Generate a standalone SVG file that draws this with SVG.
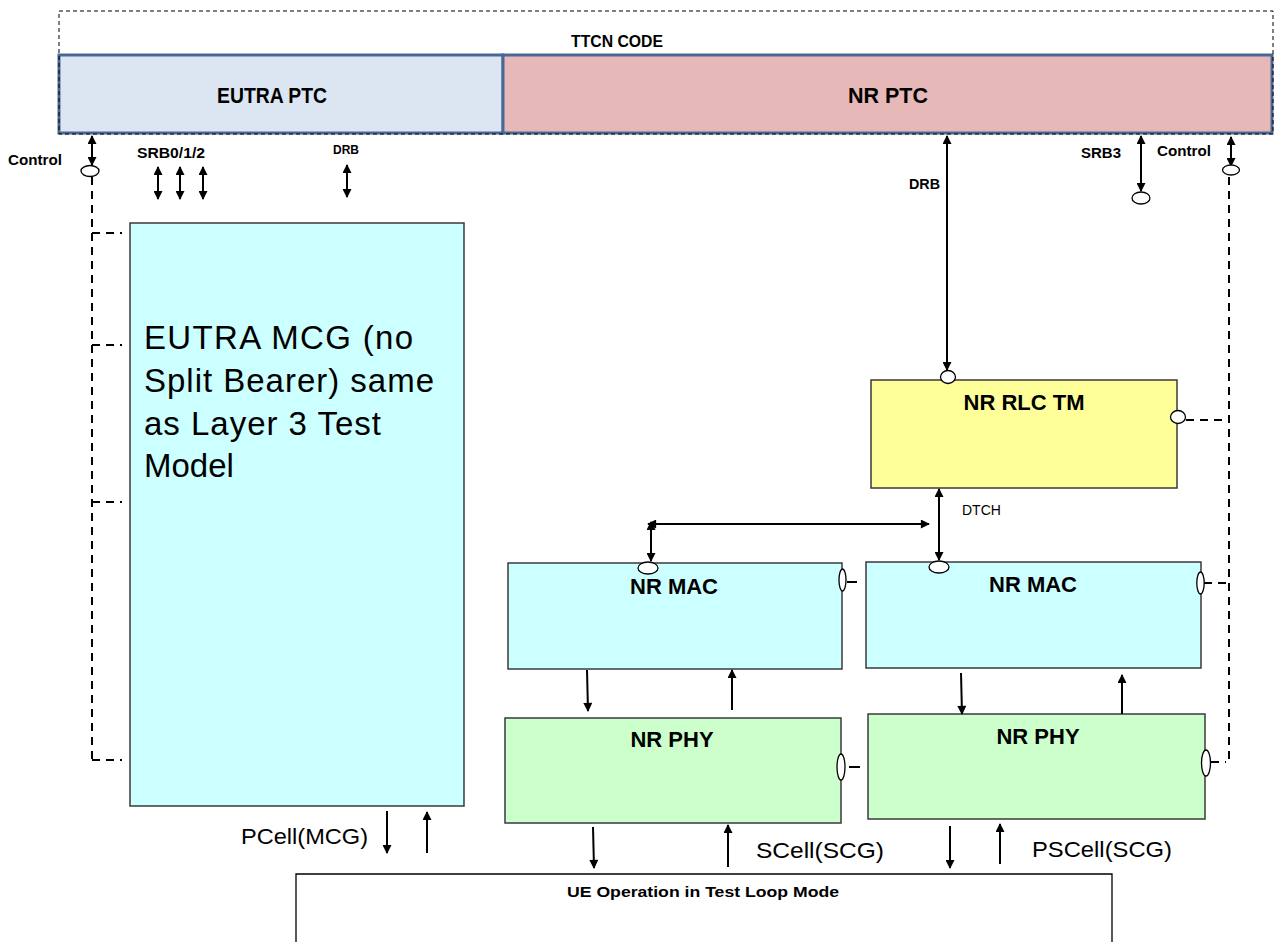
<svg xmlns="http://www.w3.org/2000/svg" width="1275" height="942" viewBox="0 0 1275 942">
<defs>
<marker id="ah" viewBox="0 0 10 10" refX="9" refY="5" markerWidth="11" markerHeight="9" markerUnits="userSpaceOnUse" orient="auto-start-reverse"><path d="M0,0 L10,5 L0,10 z" fill="#000"/></marker>
</defs>
<style>
.lbl{font-family:"Liberation Sans",Arial,sans-serif;fill:#000}
.b{font-weight:bold}
.box{stroke:#3a3a3a;stroke-width:1.5}
.ptc{stroke:#4a6896;stroke-width:3}
.ell{fill:#fff;stroke:#000;stroke-width:1.3}
.arr{stroke:#000;stroke-width:2;fill:none}
.da{marker-start:url(#ah);marker-end:url(#ah)}
.ea{marker-end:url(#ah)}
.dash{stroke:#000;stroke-width:2;stroke-dasharray:8 6;fill:none}
</style>
<rect width="1275" height="942" fill="#fff"/>

<g id="ttcn">
<rect x="59" y="55" width="444" height="78" fill="#dce6f2" class="ptc"/>
<rect x="503" y="55" width="769" height="78" fill="#e6b8b7" class="ptc"/>
<rect x="59" y="11" width="1214" height="123" fill="none" stroke="#000" stroke-width="1" stroke-dasharray="4 3"/>
<text x="617" y="47" class="lbl b" font-size="16" text-anchor="middle" textLength="92" lengthAdjust="spacingAndGlyphs">TTCN CODE</text>
</g>
<g id="eutra-ptc"><text x="272" y="103" class="lbl b" font-size="22" text-anchor="middle" textLength="110" lengthAdjust="spacingAndGlyphs">EUTRA PTC</text></g>
<g id="nr-ptc"><text x="888" y="103" class="lbl b" font-size="22" text-anchor="middle" textLength="80" lengthAdjust="spacingAndGlyphs">NR PTC</text></g>

<g id="eutra-mcg">
<rect x="130" y="223" width="334" height="583" fill="#ccffff" class="box"/>
<text class="lbl" font-size="33">
<tspan x="144" y="349" textLength="269" lengthAdjust="spacing">EUTRA MCG (no</tspan>
<tspan x="144" y="392" textLength="290" lengthAdjust="spacing">Split Bearer) same</tspan>
<tspan x="144" y="435" textLength="237" lengthAdjust="spacing">as Layer 3 Test</tspan>
<tspan x="144" y="477">Model</tspan>
</text>
</g>

<g id="nr-rlc-tm">
<rect x="871" y="380" width="306" height="108" fill="#ffff99" class="box"/>
<text x="1024" y="410" class="lbl b" font-size="22" text-anchor="middle">NR RLC TM</text>
</g>
<g id="nr-mac-1">
<rect x="508" y="563" width="334" height="106" fill="#ccffff" class="box"/>
<text x="674" y="594" class="lbl b" font-size="22" text-anchor="middle">NR MAC</text>
</g>
<g id="nr-mac-2">
<rect x="866" y="562" width="335" height="106" fill="#ccffff" class="box"/>
<text x="1033" y="592" class="lbl b" font-size="22" text-anchor="middle">NR MAC</text>
</g>
<g id="nr-phy-1">
<rect x="505" y="718" width="336" height="105" fill="#ccffcc" class="box"/>
<text x="672" y="747" class="lbl b" font-size="22" text-anchor="middle">NR PHY</text>
</g>
<g id="nr-phy-2">
<rect x="868" y="714" width="337" height="105" fill="#ccffcc" class="box"/>
<text x="1038" y="744" class="lbl b" font-size="22" text-anchor="middle">NR PHY</text>
</g>
<g id="ue">
<path d="M296,942 V874 H1112 V942" fill="#fff" stroke="#000" stroke-width="1.3"/>
<text x="703" y="897" class="lbl b" font-size="15" text-anchor="middle" textLength="272" lengthAdjust="spacingAndGlyphs">UE Operation in Test Loop Mode</text>
</g>

<g id="connectors">
<line x1="92" y1="136" x2="92" y2="165" class="arr da"/>
<path d="M92,177 V760 M92,233 H122 M92,345 H122 M92,502 H122 M92,760 H122" class="dash"/>
<line x1="158" y1="167" x2="158" y2="199" class="arr da"/>
<line x1="180" y1="167" x2="180" y2="199" class="arr da"/>
<line x1="203" y1="167" x2="203" y2="199" class="arr da"/>
<line x1="347" y1="165" x2="347" y2="197" class="arr da"/>
<line x1="947" y1="136" x2="947" y2="370" class="arr da"/>
<line x1="1141" y1="136" x2="1141" y2="191" class="arr da"/>
<line x1="1231" y1="137" x2="1231" y2="166" class="arr da"/>
<path d="M1229,177 V760 M1186,420 H1229 M1204,583 H1229 M1211,762 H1226" class="dash"/>
<path d="M847,582 H857 M849,767 H860" class="arr"/>
<line x1="939" y1="489" x2="939" y2="560" class="arr da"/>
<line x1="648" y1="524" x2="929" y2="524" class="arr da"/>
<line x1="651" y1="522" x2="651" y2="561" class="arr da"/>
<line x1="587" y1="670" x2="588" y2="711" class="arr ea"/>
<line x1="732" y1="710" x2="732" y2="670" class="arr ea"/>
<line x1="961" y1="673" x2="962" y2="714" class="arr ea"/>
<line x1="1122" y1="714" x2="1122" y2="675" class="arr ea"/>
<line x1="593" y1="827" x2="594" y2="868" class="arr ea"/>
<line x1="728" y1="867" x2="728" y2="825" class="arr ea"/>
<line x1="950" y1="826" x2="950" y2="868" class="arr ea"/>
<line x1="1000" y1="864" x2="1000" y2="824" class="arr ea"/>
<line x1="387" y1="811" x2="387" y2="853" class="arr ea"/>
<line x1="427" y1="853" x2="427" y2="812" class="arr ea"/>
</g>

<g id="ports">
<ellipse cx="90" cy="171" rx="9" ry="5.5" class="ell"/>
<ellipse cx="1141" cy="198" rx="9" ry="6" class="ell"/>
<ellipse cx="1231" cy="170" rx="8.5" ry="5" class="ell"/>
<ellipse cx="948" cy="377" rx="7.5" ry="6.5" class="ell"/>
<ellipse cx="1178" cy="417" rx="7.5" ry="6.5" class="ell"/>
<ellipse cx="648" cy="568" rx="10" ry="6" class="ell"/>
<ellipse cx="939" cy="567" rx="10" ry="6" class="ell"/>
<ellipse cx="842.5" cy="580" rx="3.5" ry="11" class="ell"/>
<ellipse cx="1200.5" cy="583" rx="3.7" ry="11" class="ell"/>
<ellipse cx="841" cy="767" rx="4" ry="13" class="ell"/>
<ellipse cx="1206" cy="763" rx="4.5" ry="13" class="ell"/>
</g>

<g id="labels">
<text x="8" y="165" class="lbl b" font-size="14" textLength="54" lengthAdjust="spacingAndGlyphs">Control</text>
<text x="137" y="158" class="lbl b" font-size="14" textLength="68" lengthAdjust="spacingAndGlyphs">SRB0/1/2</text>
<text x="333" y="154" class="lbl b" font-size="12">DRB</text>
<text x="909" y="189" class="lbl b" font-size="14" textLength="31" lengthAdjust="spacingAndGlyphs">DRB</text>
<text x="1081" y="158" class="lbl b" font-size="14" textLength="40" lengthAdjust="spacingAndGlyphs">SRB3</text>
<text x="1157" y="156" class="lbl b" font-size="14" textLength="54" lengthAdjust="spacingAndGlyphs">Control</text>
<text x="962" y="515" class="lbl" font-size="14">DTCH</text>
<text x="241" y="844" class="lbl" font-size="22" textLength="127" lengthAdjust="spacingAndGlyphs">PCell(MCG)</text>
<text x="756" y="858" class="lbl" font-size="22" textLength="128" lengthAdjust="spacingAndGlyphs">SCell(SCG)</text>
<text x="1032" y="857" class="lbl" font-size="22" textLength="140" lengthAdjust="spacingAndGlyphs">PSCell(SCG)</text>
</g>
</svg>
